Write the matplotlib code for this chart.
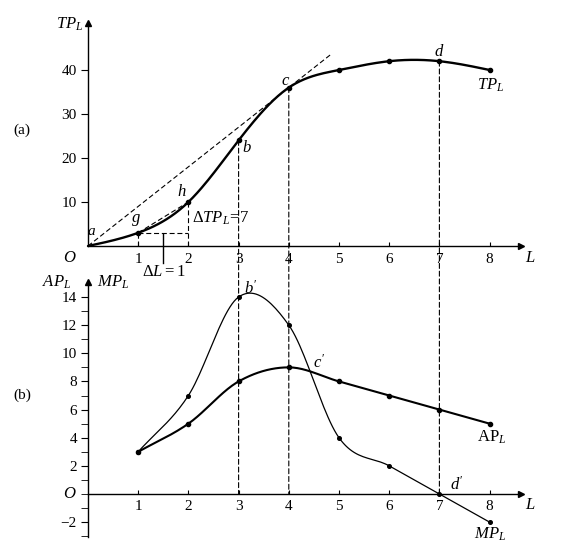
"""Total, average and marginal product of labour (textbook figure, two panels)."""

import matplotlib

matplotlib.use("Agg")
import matplotlib.pyplot as plt  # noqa: E402
import numpy as np  # noqa: E402
from matplotlib.patches import ConnectionPatch  # noqa: E402

L = [1, 2, 3, 4, 5, 6, 7, 8]
TP = [3, 10, 24, 36, 40, 42, 42, 40]
AP = [3, 5, 8, 9, 8, 7, 6, 5]
MP = [3, 7, 14, 12, 4, 2, 0, -2]
TOP_TICKS = [10, 20, 30, 40]
BOT_TICKS = [-2, 2, 4, 6, 8, 10, 12, 14]
DROP_L = [3, 4, 7]          # dashed guides from panel (a) down to panel (b)
TANGENT_END = 4.83          # where the ray through c stops

plt.rcParams["font.family"] = ["Liberation Serif", "DejaVu Serif"]
plt.rcParams["mathtext.fontset"] = "custom"
plt.rcParams["mathtext.rm"] = "Liberation Serif"
plt.rcParams["mathtext.it"] = "Liberation Serif:italic"
plt.rcParams["font.size"] = 11

DASH = (0, (4.5, 2.5))
PX_X0, PX_UNIT = 88, 50.2   # pixel of L=0, pixels per unit L
W, H = 570, 545


def smooth(x, y, n=24):
    # Catmull-Rom through the points, only used to draw a curved line
    x = np.asarray(x, float)
    y = np.asarray(y, float)
    xs, ys = [], []
    for i in range(len(x) - 1):
        x0, x1 = x[i], x[i + 1]
        y0, y1 = y[i], y[i + 1]
        mp = (y[i + 1] - y[i - 1]) / (x[i + 1] - x[i - 1]) if i > 0 else (y1 - y0) / (x1 - x0)
        mn = (y[i + 2] - y[i]) / (x[i + 2] - x[i]) if i + 2 < len(x) else (y1 - y0) / (x1 - x0)
        t = np.linspace(0, 1, n)
        h = x1 - x0
        h00 = 2 * t**3 - 3 * t**2 + 1
        h10 = t**3 - 2 * t**2 + t
        h01 = -2 * t**3 + 3 * t**2
        h11 = t**3 - t**2
        xs.append(x0 + t * h)
        ys.append(h00 * y0 + h10 * h * mp + h01 * y1 + h11 * h * mn)
    return np.concatenate(xs), np.concatenate(ys)


def spline(x, y, n=24):
    # natural cubic spline, smoother (C2) than the Catmull-Rom above
    x = np.asarray(x, float)
    y = np.asarray(y, float)
    k = len(x)
    h = np.diff(x)
    A = np.zeros((k, k))
    r = np.zeros(k)
    A[0, 0] = A[-1, -1] = 1
    for i in range(1, k - 1):
        A[i, i - 1] = h[i - 1]
        A[i, i] = 2 * (h[i - 1] + h[i])
        A[i, i + 1] = h[i]
        r[i] = 6 * ((y[i + 1] - y[i]) / h[i] - (y[i] - y[i - 1]) / h[i - 1])
    m = np.linalg.solve(A, r)
    xs, ys = [], []
    for i in range(k - 1):
        t = np.linspace(x[i], x[i + 1], n)
        a = x[i + 1] - t
        b = t - x[i]
        ys.append(m[i] * a**3 / (6 * h[i]) + m[i + 1] * b**3 / (6 * h[i])
                  + (y[i] / h[i] - m[i] * h[i] / 6) * a + (y[i + 1] / h[i] - m[i + 1] * h[i] / 6) * b)
        xs.append(t)
    return np.concatenate(xs), np.concatenate(ys)


def make_axes(fig, xlim, ylim, y0_px, y_unit):
    left = PX_X0 + xlim[0] * PX_UNIT
    right = PX_X0 + xlim[1] * PX_UNIT
    top = y0_px - ylim[1] * y_unit
    bottom = y0_px - ylim[0] * y_unit
    ax = fig.add_axes([left / W, 1 - bottom / H, (right - left) / W, (bottom - top) / H])
    ax.set_xlim(*xlim)
    ax.set_ylim(*ylim)
    ax.patch.set_alpha(0)
    for s in ("top", "right"):
        ax.spines[s].set_visible(False)
    for s in ("left", "bottom"):
        ax.spines[s].set_position(("data", 0))
        ax.spines[s].set_linewidth(1.0)
    ax.set_xticks(L)
    ax.tick_params(axis="x", direction="in", length=3, pad=5, labelsize=11)
    ax.tick_params(axis="y", direction="out", length=5, pad=3, labelsize=11)
    return ax


def arrows(ax, xend, ybot, ytop):
    ax.spines["bottom"].set_bounds(0, xend)
    ax.spines["left"].set_bounds(ybot, ytop)
    ax.plot(xend, 0, ">k", ms=5, clip_on=False)
    ax.plot(0, ytop, "^k", ms=5, clip_on=False)


fig = plt.figure(figsize=(W / 100, H / 100), dpi=100)

# ---- (a) total product ----
ax1 = make_axes(fig, (-0.6, 9.0), (-4.5, 52), 246, 4.4)
ax1.set_yticks(TOP_TICKS)
arrows(ax1, 8.62, 0, 50.6)

xs, ys = spline([0] + L, [0] + TP)
ax1.plot(xs, ys, color="k", lw=1.7, solid_capstyle="round")
ax1.plot(L, TP, "o", color="k", ms=3)

slope = TP[3] / L[3]
ax1.plot([0, TANGENT_END], [0, slope * TANGENT_END], color="k", lw=0.8, ls=DASH)
ax1.plot(L[0:2], TP[0:2], color="k", lw=0.8, ls=DASH)
ax1.plot(L[0:2], [TP[0], TP[0]], color="k", lw=0.8, ls=DASH)
ax1.plot([L[0], L[0]], [0, TP[0]], color="k", lw=0.8, ls=DASH)
ax1.plot([L[1], L[1]], [0, TP[1]], color="k", lw=0.8, ls=DASH)
ax1.plot([1.5, 1.5], [TP[0] - 0.3, -3.9], color="k", lw=1.0, clip_on=False)

ax1.text(-0.36, 50.5, r"$TP_L$", ha="center", va="center", fontsize=12)
ax1.text(-0.36, -2.8, r"$O$", ha="center", va="center", fontsize=12)
ax1.text(8.82, -2.8, r"$L$", ha="center", va="center", fontsize=12)
ax1.text(-1.31, 26.4, "(a)", ha="center", va="center", fontsize=11)
ax1.text(0.08, 3.3, r"$a$", ha="center", va="center", fontsize=11)
ax1.text(0.96, 5.8, r"$g$", ha="center", va="center", fontsize=12)
ax1.text(1.87, 12.2, r"$h$", ha="center", va="center", fontsize=12)
ax1.text(3.16, 22.3, r"$b$", ha="center", va="center", fontsize=12)
ax1.text(3.94, 37.4, r"$c$", ha="center", va="center", fontsize=12)
ax1.text(7.0, 44.2, r"$d$", ha="center", va="center", fontsize=12)
ax1.text(8.02, 36.6, r"$TP_L$", ha="center", va="center", fontsize=12)
ax1.text(2.07, 6.4, r"$\Delta TP_L\!=\!7$", ha="left", va="center", fontsize=12)
ax1.text(1.5, -5.9, r"$\Delta L=1$", ha="center", va="center", fontsize=12)

# ---- (b) average and marginal product ----
ax2 = make_axes(fig, (-0.6, 9.0), (-3.4, 15.5), 494, 14.07)
ax2.set_yticks(BOT_TICKS)
ax2.set_yticks(range(-3, 15), minor=True)
ax2.tick_params(axis="y", which="minor", direction="out", length=5)
ax2.tick_params(axis="x", pad=4)
arrows(ax2, 8.62, -3.05, 15.1)

xs, ys = smooth(L, MP)
ax2.plot(xs, ys, color="k", lw=0.9)
ax2.plot(L, MP, "o", color="k", ms=2.6)
xs, ys = smooth(L, AP)
ax2.plot(xs, ys, color="k", lw=1.5)
ax2.plot(L, AP, "o", color="k", ms=3)

ax2.text(-0.62, 15.05, r"$AP_L$", ha="center", va="center", fontsize=12)
ax2.text(0.5, 15.05, r"$MP_L$", ha="center", va="center", fontsize=12)
ax2.text(-0.36, 0.0, r"$O$", ha="center", va="center", fontsize=12)
ax2.text(8.82, -0.8, r"$L$", ha="center", va="center", fontsize=12)
ax2.text(-1.31, 7.0, "(b)", ha="center", va="center", fontsize=11)
ax2.text(3.25, 14.6, r"$b'$", ha="center", va="center", fontsize=12)
ax2.text(4.6, 9.3, r"$c'$", ha="center", va="center", fontsize=12)
ax2.text(7.35, 0.65, r"$d'$", ha="center", va="center", fontsize=12)
ax2.text(8.05, 4.0, r"$\mathrm{AP}_L$", ha="center", va="center", fontsize=12)
ax2.text(8.0, -2.85, r"$MP_L$", ha="center", va="center", fontsize=12)

# dashed guides running through both panels
for x in DROP_L:
    top_val = TP[L.index(x)]
    con = ConnectionPatch(xyA=(x, top_val), xyB=(x, 0), coordsA="data", coordsB="data",
                          axesA=ax1, axesB=ax2, color="k", lw=0.8, ls=DASH)
    fig.add_artist(con)

fig.savefig("out.png", dpi=100)
